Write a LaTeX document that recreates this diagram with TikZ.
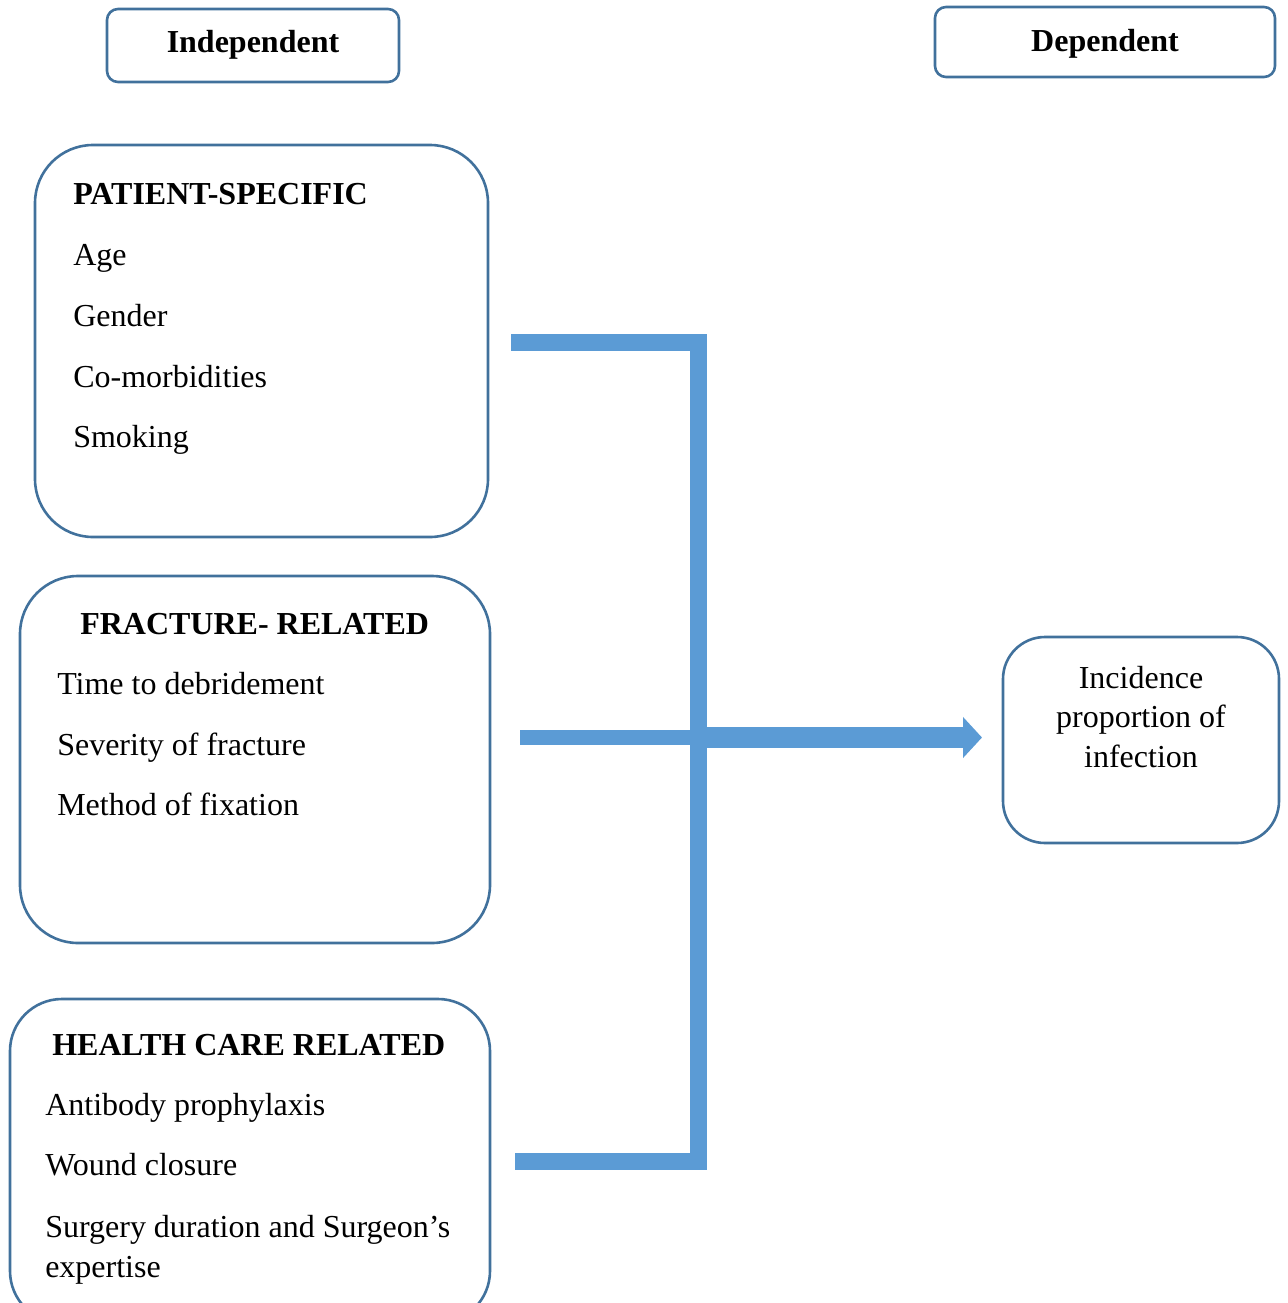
\documentclass[tikz,border=0pt]{standalone}
\usepackage{fontspec}
\setmainfont{Liberation Serif}
\usetikzlibrary{arrows.meta}
\newdimen\upx \upx=0.75pt
\definecolor{boxline}{HTML}{41719C}
\definecolor{barblue}{HTML}{5B9BD5}

\tikzset{
    roundbox/.style={draw=boxline, line width=2.6\upx, rounded corners=58\upx, inner sep=0},
    labelbox/.style={roundbox, rounded corners=11\upx},
    headtext/.style={anchor=base west, inner sep=0, font=\bfseries\fontsize{24}{29}\selectfont},
    itemtext/.style={anchor=base west, inner sep=0, font=\fontsize{24}{29}\selectfont},
    bar/.style={draw=barblue, line width=17\upx}
    }

\begin{document}
\begin{tikzpicture}[x=1\upx, y=-1\upx]
    \useasboundingbox (0,0) rectangle (1288,1303);
                % Headers
                \node[labelbox, minimum width=292\upx, minimum height=73\upx] (indep) at (253,45.5) {};
                \node[headtext, anchor=base] (indeptext) at (253,52) {Independent};
                \node[labelbox, minimum width=340\upx, minimum height=70\upx] (dep) at (1105,42) {};
                \node[headtext, anchor=base] (deptext) at (1105,51) {Dependent};

                % Patient-specific
                \node[roundbox, minimum width=453\upx, minimum height=392\upx] (patient) at (261.5,341) {};
                \node[headtext] (patienthead) at (73,204) {PATIENT-SPECIFIC};
                \node[itemtext] (age) at (73,265) {Age};
                \node[itemtext] (gender) at (73,326) {Gender};
                \node[itemtext] (comorb) at (73,387) {Co-morbidities};
                \node[itemtext] (smoking) at (73,447) {Smoking};

                % Fracture-related
                \node[roundbox, minimum width=470\upx, minimum height=367\upx] (fracture) at (255,759.5) {};
                \node[headtext] (fracturehead) at (80,634) {FRACTURE- RELATED};
                \node[itemtext] (debride) at (57,694) {Time to debridement};
                \node[itemtext] (severity) at (57,755) {Severity of fracture};
                \node[itemtext] (fixation) at (57,815) {Method of fixation};

                % Health care related
                \node[roundbox, rounded corners=52\upx, minimum width=480\upx, minimum height=324\upx] (health) at (250,1161) {};
                \node[headtext] (healthhead) at (52,1055) {HEALTH CARE RELATED};
                \node[itemtext] (prophy) at (45,1115) {Antibody prophylaxis};
                \node[itemtext] (wound) at (45,1175) {Wound closure};
                \node[itemtext] (surgery) at (45,1237) {Surgery duration and Surgeon’s};
                \node[itemtext] (expert) at (45,1277) {expertise};

                % Outcome
                \node[roundbox, rounded corners=42\upx, minimum width=276\upx, minimum height=206\upx] (outcome) at (1141,740) {};
                \node[itemtext, anchor=base] (outcome1) at (1141,688) {Incidence};
                \node[itemtext, anchor=base] (outcome2) at (1141,727) {proportion of};
                \node[itemtext, anchor=base] (outcome3) at (1141,767) {infection};

                % The bracket
                \coordinate (top) at (511,342);
                \coordinate (bottom) at (515,1161);
                \coordinate (mid) at (520,737.5);
                \coordinate (spine) at (698.5,737.5);
                \coordinate (tip) at (982,737.5);
                \draw[bar] (top) -| (spine |- bottom) -- (bottom);
                \draw[bar, line width=15\upx] (mid) -- (spine);
                \draw[bar, line width=21\upx, -{Triangle[length=14.25pt, width=30pt]}] (spine) -- (tip);
            \end{tikzpicture}
\end{document}
